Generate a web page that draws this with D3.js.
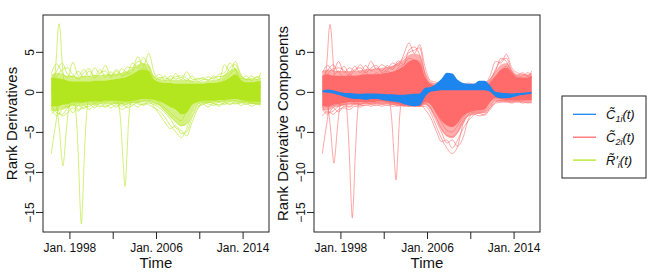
<!DOCTYPE html>
<html>
<head>
<meta charset="utf-8">
<script src="https://cdn.jsdelivr.net/npm/d3@7"></script>
<style>
  body { margin: 0; background: #fff; }
  svg { display: block; font-family: "Liberation Sans", Arial, sans-serif; }
</style>
</head>
<body>
<div id="chart"></div>
<script>
// time grid (decimal years) used by the band edges and strands
const years = [1996.33, 1996.83, 1997.33, 1997.83, 1998.33, 1998.83, 1999.33, 1999.83,
  2000.33, 2000.83, 2001.33, 2001.83, 2002.33, 2002.83, 2003.33, 2003.83, 2004.33, 2004.83,
  2005.33, 2005.83, 2006.33, 2006.83, 2007.33, 2007.83, 2008.33, 2008.83, 2009.33, 2009.83,
  2010.33, 2010.83, 2011.33, 2011.83, 2012.33, 2012.83, 2013.33, 2013.83, 2014.33, 2014.83,
  2015.33, 2015.67];

const xTickValues = [1998, 2002, 2006, 2010, 2014];
const xTickLabels = { 1998: 'Jan. 1998', 2006: 'Jan. 2006', 2014: 'Jan. 2014' };
const yTickValues = [5, 0, -5, -10, -15];

// ---- left panel: rank derivatives (green) ----
// dense core of the bundle
const greenCoreHi = [1.8, 1.7, 1.6, 1.4, 1.3, 1.3, 1.3, 1.3, 1.4, 1.4, 1.4, 1.5, 1.6, 1.7, 1.9, 2.2,
  2.6, 2.8, 2.6, 1.5, 1.2, 1.1, 1.1, 1.0, 1.0, 1.0, 1.0, 1.0, 1.0, 1.1, 1.1, 1.2, 1.4, 1.8, 2.2, 1.5,
  1.2, 1.2, 1.3, 1.4];
const greenCoreLo = [-1.8, -1.8, -1.6, -1.5, -1.3, -1.3, -1.3, -1.2, -1.2, -1.2, -1.1, -1.1, -1.1, -1.2,
  -1.2, -1.1, -1.0, -0.9, -0.9, -1.0, -1.2, -1.5, -1.9, -2.2, -2.8, -2.6, -1.6, -1.3, -1.1, -1.1, -1.1,
  -1.0, -1.0, -0.9, -0.9, -1.0, -1.1, -1.2, -1.2, -1.3];
// looser fringe around the core
const greenMidHi = [2.2, 2.4, 2.3, 2.0, 2.0, 1.9, 2.0, 2.0, 2.1, 2.1, 2.2, 2.2, 2.3, 2.4, 2.6, 3.0, 3.4,
  3.6, 3.4, 2.0, 1.6, 1.5, 1.5, 1.5, 1.5, 1.5, 1.4, 1.3, 1.3, 1.4, 1.5, 1.6, 2.2, 2.6, 3.0, 2.0, 1.6,
  1.6, 1.6, 1.8];
const greenMidLo = [-2.4, -2.4, -2.2, -2.0, -1.8, -1.8, -1.7, -1.6, -1.6, -1.5, -1.5, -1.5, -1.5, -1.6,
  -1.6, -1.4, -1.4, -1.3, -1.3, -1.5, -1.8, -2.4, -3.2, -3.8, -4.3, -4.0, -2.5, -1.6, -1.4, -1.4, -1.4,
  -1.3, -1.3, -1.2, -1.2, -1.3, -1.4, -1.5, -1.5, -1.6];
const greenStrands = [
  [2.3, 3.5, 2.4, 1.8, 3.7, 2.0, 2.8, 1.9, 3.0, 2.2, 3.3, 2.0, 2.8, 2.2, 3.1, 3.0, 4.4, 3.2, 4.8, 2.4,
   1.6, 2.0, 1.4, 2.3, 1.5, 2.5, 1.6, 1.5, 1.8, 1.4, 2.0, 1.5, 3.4, 2.5, 3.8, 2.2, 1.6, 2.0, 1.5, 2.4],
  [1.5, 2.6, 3.6, 2.2, 1.9, 2.6, 1.8, 2.6, 2.0, 2.8, 1.8, 2.5, 2.0, 2.9, 2.4, 3.6, 3.0, 4.3, 3.2, 1.8,
   2.2, 1.4, 2.0, 1.6, 1.8, 1.4, 2.0, 1.3, 1.5, 1.9, 1.6, 2.2, 2.4, 3.6, 2.8, 1.6, 2.0, 1.4, 1.9, 1.6],
  [1.0, 1.9, 2.8, 3.0, 2.1, 1.6, 2.4, 2.9, 1.7, 2.4, 2.6, 1.8, 2.6, 2.0, 2.2, 2.6, 3.8, 3.5, 2.4, 1.4,
   1.8, 1.7, 1.6, 1.9, 2.0, 1.7, 1.3, 1.7, 1.6, 1.5, 1.8, 1.9, 2.0, 3.0, 3.4, 2.0, 1.5, 1.7, 1.8, 2.0],
  [0.4, -1.2, 1.2, -0.8, 0.9, -1.0, 0.6, -0.9, 1.1, -0.6, 0.8, -0.9, 0.7, 1.8, 2.4, 2.0, 2.6, 3.0, 2.2,
   -0.6, -1.4, -2.0, -2.6, -3.2, -3.6, -2.2, -0.8, 0.6, -0.5, 0.7, -0.6, 0.8, 1.6, 2.2, 2.8, 1.0, -0.4,
   0.6, -0.5, 0.8],
  [-2.8, -2.2, -3.0, -2.6, -2.0, -2.4, -1.6, -2.2, -1.7, -1.9, -1.5, -2.0, -1.6, -2.2, -1.8, -1.5, -1.9,
   -1.4, -1.6, -2.0, -2.4, -3.2, -4.2, -5.0, -5.7, -4.6, -2.6, -1.8, -1.5, -1.9, -1.4, -1.8, -1.3, -1.6,
   -1.2, -1.7, -1.4, -1.8, -1.5, -1.8],
  [-2.0, -3.0, -2.2, -1.8, -2.6, -1.7, -2.1, -1.5, -2.0, -1.4, -1.8, -1.5, -1.9, -1.4, -2.0, -1.7, -1.3,
   -1.7, -1.4, -1.6, -2.0, -2.6, -3.4, -4.5, -4.8, -5.5, -3.8, -2.2, -1.4, -1.5, -1.7, -1.3, -1.6, -1.2,
   -1.4, -1.3, -1.6, -1.3, -1.6, -1.4],
  [-1.6, -2.6, -2.8, -2.0, -1.5, -2.2, -1.9, -1.8, -1.5, -1.7, -1.9, -1.6, -1.4, -1.8, -1.5, -1.3, -1.5,
   -1.6, -1.2, -1.9, -2.8, -3.8, -4.6, -4.2, -5.2, -5.0, -3.2, -2.0, -1.6, -1.3, -1.5, -1.6, -1.4, -1.4,
   -1.5, -1.4, -1.2, -1.5, -1.4, -1.6],
  [-1.4, -1.6, -1.3, -1.5, -1.2, -1.4, -1.3, -1.1, -1.4, -1.2, -1.3, -1.1, -1.3, -1.4, -1.2, -1.1, -1.2,
   -1.1, -1.0, -1.3, -1.6, -2.4, -3.0, -3.8, -4.2, -4.0, -3.0, -1.6, -1.2, -1.3, -1.1, -1.2, -1.1, -1.0,
   -1.1, -1.2, -1.1, -1.3, -1.2, -1.4]
];

// ---- right panel: components C1 (blue band) and C2 (red) ----
const blueHi = [0.15, 0.3, 0.2, 0.0, -0.1, -0.15, -0.2, -0.25, -0.2, -0.2, -0.2, -0.25, -0.3, -0.3,
  -0.35, -0.35, -0.3, -0.25, -0.2, 0.5, 0.6, 1.0, 1.6, 2.4, 2.3, 1.5, 1.1, 1.0, 1.0, 1.4, 1.4, 0.8,
  0.0, -0.1, -0.15, -0.2, -0.15, -0.1, -0.05, 0.0];
const blueLo = [-0.05, -0.1, -0.2, -0.4, -0.6, -0.8, -0.9, -0.9, -1.0, -0.9, -0.9, -1.0, -1.1, -1.2,
  -1.3, -1.5, -1.7, -1.8, -1.7, -0.6, 0.0, 0.1, 0.2, 0.2, 0.2, 0.2, 0.2, 0.2, 0.2, 0.2, 0.2, 0.0,
  -0.6, -0.8, -0.8, -0.7, -0.5, -0.4, -0.3, -0.2];
const redCoreHi = [2.0, 2.2, 2.0, 2.0, 2.0, 2.0, 2.0, 2.1, 2.2, 2.2, 2.2, 2.3, 2.4, 2.5, 2.8, 3.2, 3.8,
  4.0, 3.6, 1.8, 1.0, 0.8, 0.6, 0.5, 0.4, 0.4, 0.4, 0.5, 0.5, 0.5, 0.6, 1.2, 2.0, 2.8, 3.0, 2.4, 1.8,
  1.8, 1.8, 2.0];
const redCoreLo = [-1.8, -1.8, -1.6, -1.5, -1.4, -1.3, -1.3, -1.3, -1.3, -1.3, -1.2, -1.2, -1.3, -1.4,
  -1.5, -1.6, -1.7, -1.8, -1.8, -1.3, -1.6, -2.6, -3.6, -4.2, -4.4, -3.9, -3.0, -2.6, -2.4, -2.3, -2.2,
  -1.3, -0.8, -0.9, -1.0, -1.0, -1.0, -1.0, -1.0, -1.0];
const redMidHi = [2.6, 2.8, 2.7, 2.6, 2.6, 2.6, 2.6, 2.7, 2.8, 2.9, 2.9, 3.0, 3.1, 3.3, 3.6, 4.0, 4.6,
  4.8, 4.6, 2.4, 1.2, 1.0, 0.8, 0.7, 0.7, 0.7, 0.7, 0.8, 0.8, 0.9, 1.0, 1.6, 2.6, 3.4, 3.6, 2.8, 2.2,
  2.2, 2.2, 2.4];
const redMidLo = [-2.3, -2.3, -2.0, -1.9, -1.7, -1.6, -1.6, -1.6, -1.5, -1.5, -1.5, -1.5, -1.5, -1.6,
  -1.7, -1.8, -1.8, -1.9, -1.9, -1.6, -2.2, -3.4, -4.8, -5.6, -5.8, -5.2, -4.0, -3.0, -2.8, -2.7, -2.6,
  -1.8, -1.1, -1.1, -1.2, -1.2, -1.2, -1.2, -1.2, -1.2];
const redStrands = [
  [2.4, 3.3, 2.6, 3.8, 2.4, 3.0, 2.6, 3.4, 2.7, 3.8, 2.8, 3.4, 3.0, 3.6, 3.3, 4.6, 6.1, 4.8, 5.9, 3.0,
   1.4, 1.2, 0.9, 1.1, 0.8, 1.0, 0.9, 1.1, 0.9, 1.2, 1.0, 2.0, 3.8, 3.6, 4.7, 3.0, 2.4, 2.2, 2.0, 2.6],
  [1.8, 2.7, 3.4, 2.4, 3.2, 2.3, 3.2, 2.4, 3.3, 2.6, 3.0, 2.6, 3.3, 2.8, 3.9, 3.4, 5.2, 5.6, 4.6, 2.4,
   1.2, 1.0, 0.8, 0.7, 0.9, 0.7, 0.8, 0.7, 1.0, 0.8, 1.1, 1.6, 2.6, 4.2, 3.8, 2.4, 2.0, 2.4, 1.9, 2.2],
  [1.2, 2.2, 2.9, 3.0, 2.7, 2.0, 2.8, 3.0, 2.4, 3.0, 3.3, 2.4, 2.8, 3.1, 3.6, 4.2, 4.9, 5.2, 5.5, 2.0,
   0.9, 0.6, 0.5, 0.6, 0.4, 0.6, 0.5, 0.6, 0.7, 0.6, 0.8, 1.4, 2.8, 3.9, 4.2, 2.6, 1.8, 2.0, 2.4, 1.8],
  [0.6, 1.4, 2.0, 2.6, 1.5, 2.2, 1.7, 2.0, 2.5, 1.8, 2.4, 2.0, 2.6, 2.2, 3.0, 3.4, 4.2, 4.0, 3.8, 1.0,
   -1.2, -2.6, -3.8, -4.8, -5.0, -4.2, -3.2, -2.4, -2.2, -2.0, -2.0, -0.4, 1.6, 2.6, 3.2, 2.0, 1.4,
   1.6, 1.4, 1.8],
  [-3.0, -2.4, -2.8, -2.2, -2.0, -2.2, -1.8, -1.9, -1.6, -1.8, -1.6, -1.8, -1.6, -1.8, -1.7, -1.6, -1.8,
   -1.6, -1.8, -1.8, -2.6, -4.2, -5.8, -7.0, -7.7, -6.8, -4.0, -3.0, -2.8, -3.0, -2.8, -2.2, -1.4, -1.3,
   -1.2, -1.4, -1.2, -1.4, -1.3, -1.4],
  [-2.2, -2.8, -2.0, -2.5, -1.8, -1.9, -1.6, -1.7, -1.7, -1.5, -1.7, -1.5, -1.7, -1.5, -1.8, -1.6, -1.5,
   -1.8, -1.6, -1.5, -2.2, -3.6, -5.0, -6.4, -6.0, -6.8, -5.7, -3.4, -2.6, -2.7, -2.9, -2.0, -1.2, -1.2,
   -1.3, -1.2, -1.3, -1.2, -1.4, -1.2],
  [-1.8, -2.6, -2.4, -1.8, -1.6, -1.8, -1.4, -1.6, -1.3, -1.6, -1.4, -1.6, -1.4, -1.6, -1.5, -1.8, -1.6,
   -1.7, -1.5, -2.2, -3.2, -4.8, -6.2, -6.0, -7.0, -6.0, -4.6, -3.6, -2.9, -2.6, -2.6, -2.0, -1.3, -1.0,
   -1.1, -1.3, -1.0, -1.3, -1.2, -1.3],
  [-1.6, -1.9, -1.7, -1.6, -1.5, -1.5, -1.4, -1.5, -1.4, -1.4, -1.3, -1.4, -1.3, -1.4, -1.5, -1.7, -1.8,
   -1.7, -1.6, -1.4, -2.0, -3.2, -4.6, -5.4, -5.6, -5.0, -3.6, -2.8, -2.5, -2.4, -2.4, -1.8, -1.0, -1.1,
   -1.0, -1.1, -1.1, -1.1, -1.0, -1.1]
];

// ---- isolated spikes (own time points), green value / red value ----
const spikeUpYears   = [1996.33, 1996.6, 1996.8, 1996.95, 1997.05, 1997.15, 1997.3, 1997.5, 1997.8, 1998.2];
const spikeUpGreen   = [0.5, 1.5, 4.5, 7.8, 8.5, 7.6, 4.2, 1.2, -0.6, 0.4];
const spikeUpRed     = [0.8, 1.8, 4.6, 7.7, 8.4, 7.5, 4.3, 1.5, 0.2, 1.0];
const spikeStartYears = [1996.33, 1996.55, 1996.8, 1997.0, 1997.3, 1997.8, 1998.3];
const spikeStartGreen = [-7.7, -5.6, -3.4, -1.2, 0.2, 0.8, 0.2];
const spikeStartRed   = [-7.7, -5.6, -3.4, -1.0, 0.5, 1.2, 0.6];
const spikeAYears = [1996.5, 1996.85, 1997.1, 1997.3, 1997.4, 1997.5, 1997.7, 1997.95, 1998.3, 1998.7];
const spikeAGreen = [-1.0, -2.2, -5.0, -8.4, -9.25, -8.4, -5.0, -2.0, -0.8, -1.2];
const spikeARed   = [-0.6, -2.0, -4.8, -8.0, -8.9, -8.0, -4.8, -1.8, -0.4, -0.8];
const spikeBYears = [1998.1, 1998.45, 1998.65, 1998.85, 1999.0, 1999.1, 1999.2, 1999.35, 1999.55, 1999.75, 2000.1];
const spikeBGreen = [-0.5, -1.2, -3.5, -9.0, -14.5, -16.5, -14.5, -9.0, -3.5, -1.0, -0.2];
const spikeBRed   = [-0.2, -0.9, -3.3, -8.6, -13.8, -15.75, -13.8, -8.6, -3.3, -0.7, 0.2];
const spikeCYears = [2002.2, 2002.55, 2002.75, 2002.95, 2003.14, 2003.3, 2003.45, 2003.65, 2004.0];
const spikeCGreen = [-0.5, -1.5, -4.0, -8.5, -11.8, -8.5, -4.0, -1.5, -0.4];
const spikeCRed   = [-0.2, -1.2, -3.6, -7.8, -11.0, -7.8, -3.6, -1.2, -0.1];

const colBlue = '#1C86EE';
const colRed = '#FF6A6A';
const colGreen = '#B3E61E';

const W = 664, H = 276;
const plotTop = 15, plotBottom = 232;

const svg = d3.select('#chart').append('svg')
  .attr('width', W).attr('height', H);
svg.append('rect').attr('width', W).attr('height', H).attr('fill', '#fff');

function pairs(xs, ys) { return xs.map((x, i) => [x, ys[i]]); }

function drawPanel(x0, x1, yLabel, draw) {
  const x = d3.scaleLinear().domain([1995.56, 2016.44]).range([x0, x1]);
  const y = d3.scaleLinear().domain([-17.5, 9.6]).range([plotBottom, plotTop]);
  const g = svg.append('g');

  const line = d3.line().x(d => x(d[0])).y(d => y(d[1])).curve(d3.curveMonotoneX);
  const area = (hi, lo) => d3.area()
    .x((d, i) => x(years[i])).y0((d, i) => y(lo[i])).y1((d, i) => y(hi[i]))
    .curve(d3.curveMonotoneX)(years);

  draw(g, x, y, line, area);

  // box
  g.append('rect')
    .attr('x', x0).attr('y', plotTop).attr('width', x1 - x0).attr('height', plotBottom - plotTop)
    .attr('fill', 'none').attr('stroke', '#222').attr('stroke-width', 1);

  // x axis
  const xa = g.append('g').attr('transform', `translate(0,${plotBottom})`)
    .call(d3.axisBottom(x).tickValues(xTickValues).tickSize(7).tickSizeOuter(0)
      .tickFormat(d => xTickLabels[d] || ''));
  xa.select('.domain').remove();
  xa.selectAll('line').attr('stroke', '#222');
  xa.selectAll('text').attr('y', 20).attr('dy', 0)
    .attr('font-size', 12).attr('fill', '#111').attr('font-family', null);

  // y axis with rotated labels
  const ya = g.append('g').attr('transform', `translate(${x0},0)`)
    .call(d3.axisLeft(y).tickValues(yTickValues).tickSize(7).tickSizeOuter(0)
      .tickFormat(d => d < 0 ? '\u2212' + Math.abs(d) : String(d)));
  ya.select('.domain').remove();
  ya.selectAll('line').attr('stroke', '#222');
  ya.selectAll('text')
    .attr('transform', 'rotate(-90)')
    .attr('x', 0).attr('y', -9).attr('dy', 0)
    .attr('text-anchor', 'middle')
    .attr('font-size', 12).attr('fill', '#111').attr('font-family', null);

  // axis titles
  g.append('text')
    .attr('x', (x0 + x1) / 2).attr('y', plotBottom + 36)
    .attr('text-anchor', 'middle').attr('font-size', 15).attr('fill', '#111')
    .text('Time');
  g.append('text')
    .attr('transform', `translate(${x0 - 26.5},${(plotTop + plotBottom) / 2}) rotate(-90)`)
    .attr('text-anchor', 'middle').attr('font-size', 15).attr('fill', '#111')
    .text(yLabel);
}

function drawBundle(g, line, area, col, coreHi, coreLo, midHi, midLo, strands, spikes) {
  g.append('path').attr('d', area(midHi, midLo)).attr('fill', col).attr('opacity', 0.55);
  g.append('path').attr('d', area(coreHi, coreLo)).attr('fill', col);
  strands.forEach(s => {
    g.append('path').attr('d', line(pairs(years, s)))
      .attr('fill', 'none').attr('stroke', col).attr('stroke-width', 0.7).attr('opacity', 0.85);
  });
  spikes.forEach(([xs, ys]) => {
    g.append('path').attr('d', line(pairs(xs, ys)))
      .attr('fill', 'none').attr('stroke', col).attr('stroke-width', 0.7).attr('opacity', 0.85);
  });
}

// left panel
drawPanel(43, 269, 'Rank Derivatives', (g, x, y, line, area) => {
  drawBundle(g, line, area, colGreen, greenCoreHi, greenCoreLo, greenMidHi, greenMidLo, greenStrands,
    [[spikeUpYears, spikeUpGreen], [spikeStartYears, spikeStartGreen], [spikeAYears, spikeAGreen],
     [spikeBYears, spikeBGreen], [spikeCYears, spikeCGreen]]);
});

// right panel
drawPanel(314, 540, 'Rank Derivative Components', (g, x, y, line, area) => {
  drawBundle(g, line, area, colRed, redCoreHi, redCoreLo, redMidHi, redMidLo, redStrands,
    [[spikeUpYears, spikeUpRed], [spikeStartYears, spikeStartRed], [spikeAYears, spikeARed],
     [spikeBYears, spikeBRed], [spikeCYears, spikeCRed]]);
  g.append('path').attr('d', area(blueHi, blueLo)).attr('fill', colBlue);
});

// legend
const legend = svg.append('g');
legend.append('rect')
  .attr('x', 562).attr('y', 96).attr('width', 84).attr('height', 82)
  .attr('fill', '#fff').attr('stroke', '#222').attr('stroke-width', 1);
const legendItems = [
  { color: colBlue, base: 'C', sub: '1i', prime: '' },
  { color: colRed, base: 'C', sub: '2i', prime: '' },
  { color: colGreen, base: 'R', sub: 'i', prime: '\u2032' }
];
legendItems.forEach((d, i) => {
  const yy = 114.3 + i * 22.9;
  legend.append('line').attr('x1', 573).attr('x2', 596).attr('y1', yy).attr('y2', yy)
    .attr('stroke', d.color).attr('stroke-width', 1.3);
  const t = legend.append('text').attr('x', 606).attr('y', yy + 5)
    .attr('font-size', 13).attr('font-style', 'italic').attr('fill', '#111');
  t.append('tspan').text(d.base + '\u0303' + d.prime);
  t.append('tspan').attr('dy', 3).attr('font-size', 9).text(d.sub);
  t.append('tspan').attr('dy', -3).text('(t)');
});
</script>
</body>
</html>
